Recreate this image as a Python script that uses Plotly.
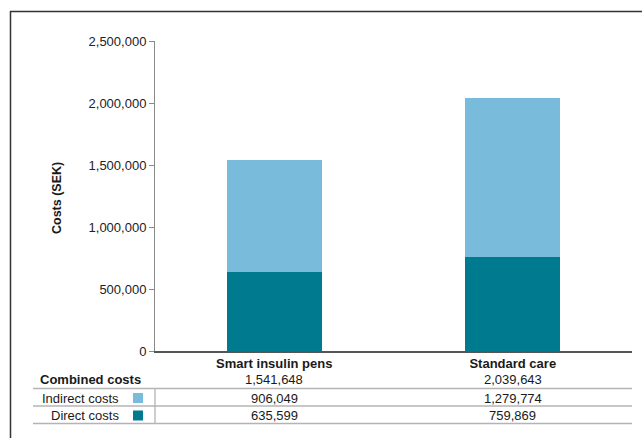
import plotly.graph_objects as go

categories = ["Smart insulin pens", "Standard care"]
direct_costs = [635599, 759869]
indirect_costs = [906049, 1279774]
combined_costs = [1541648, 2039643]
y_ticks = [0, 500000, 1000000, 1500000, 2000000, 2500000]
row_labels = ["Combined costs", "Indirect costs", "Direct costs"]

W, H = 642, 438
L, R, T, B = 155, 10, 41, 87
PW, PH = W - L - R, H - T - B

def px(x):
    return (x - L) / PW

def py(y):
    return (H - B - y) / PH

C_IND = "#79bbda"
C_DIR = "#007a8e"
FONT = "Liberation Sans, Arial, sans-serif"

fig = go.Figure()
fig.add_bar(x=categories, y=direct_costs, name="Direct costs", marker_color=C_DIR,
            marker_line_width=0, width=0.4)
fig.add_bar(x=categories, y=indirect_costs, name="Indirect costs", marker_color=C_IND,
            marker_line_width=0, width=0.4)

shapes = []
annotations = []

# frame lines (top and left)
shapes.append(dict(type="line", xref="paper", yref="paper", x0=px(10), x1=px(645),
                   y0=py(11.5), y1=py(11.5), line=dict(color="#333", width=1.5)))
shapes.append(dict(type="line", xref="paper", yref="paper", x0=px(10.5), x1=px(10.5),
                   y0=py(11), y1=py(445), line=dict(color="#333", width=1.5)))

# table lines
for yl in [388.5, 406, 423.5]:
    shapes.append(dict(type="line", xref="paper", yref="paper", x0=px(33), x1=1,
                       y0=py(yl), y1=py(yl), line=dict(color="#b4b4b4", width=1.3)))
shapes.append(dict(type="line", xref="paper", yref="paper", x0=0, x1=0,
                   y0=py(388.5), y1=py(423.5), line=dict(color="#b4b4b4", width=1.3)))

# legend squares
for (y0, y1), col in [((393, 403), C_IND), ((410.5, 420.5), C_DIR)]:
    shapes.append(dict(type="rect", xref="paper", yref="paper", x0=px(133), x1=px(143),
                       y0=py(y1), y1=py(y0), fillcolor=col, line_width=0))

row_y = [379.5, 398, 415.5]
row_x = [143, 121, 121]
for lab, yy, xx, i in zip(row_labels, row_y, row_x, range(3)):
    txt = f"<b>{lab}</b>" if i == 0 else lab
    annotations.append(dict(text=txt, xref="paper", yref="paper", x=px(xx), y=py(yy),
                            xanchor="right", yanchor="middle", showarrow=False,
                            font=dict(family=FONT, size=13, color="#1a1a1a")))

for vals, yy in zip([combined_costs, indirect_costs, direct_costs], row_y):
    for c, v in zip(categories, vals):
        annotations.append(dict(text=f"{v:,}", xref="x", yref="paper", x=c, y=py(yy),
                                xanchor="center", yanchor="middle", showarrow=False,
                                font=dict(family=FONT, size=13, color="#1a1a1a")))

annotations.append(dict(text="<b>Costs (SEK)</b>", xref="paper", yref="paper",
                        x=px(57), y=py(198), textangle=-90, showarrow=False,
                        xanchor="center", yanchor="middle",
                        font=dict(family=FONT, size=12.5, color="#1a1a1a")))

fig.update_layout(
    width=W, height=H, barmode="stack", showlegend=False,
    margin=dict(l=L, r=R, t=T, b=B),
    paper_bgcolor="white", plot_bgcolor="white",
    font=dict(family=FONT, size=13, color="#1a1a1a"),
    shapes=shapes, annotations=annotations,
    xaxis=dict(tickmode="array", tickvals=categories,
               ticktext=[f"<b>{c}</b>" for c in categories],
               showline=True, linecolor="#555", linewidth=1.5, ticks="",
               showgrid=False, tickfont=dict(size=13, color="#1a1a1a"), fixedrange=True),
    yaxis=dict(range=[0, 2500000], tickvals=y_ticks, tickformat=",",
               showline=True, linecolor="#8a8a8a", linewidth=1, ticks="outside",
               ticklen=5, tickcolor="#8a8a8a", showgrid=False, zeroline=False,
               tickfont=dict(size=13, color="#222"), fixedrange=True),
)

fig.write_html("out.html")
